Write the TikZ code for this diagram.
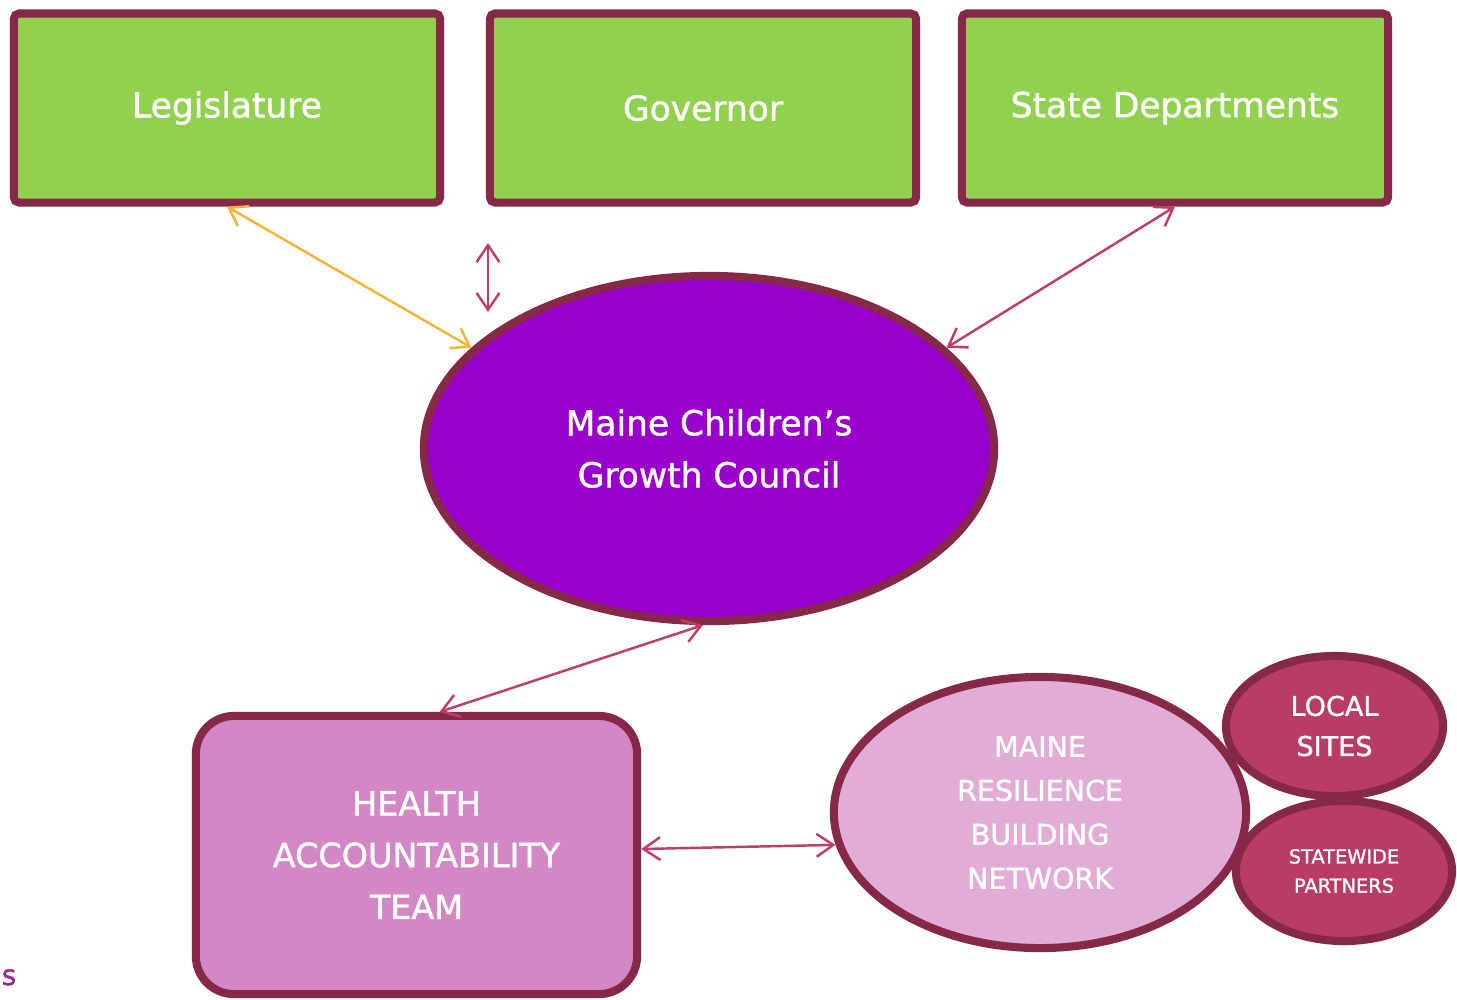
\documentclass[tikz,border=0pt]{standalone}
\usepackage{fontspec}
\setmainfont{DejaVu Sans}[FakeBold = 1.2]
\usetikzlibrary{arrows.meta, shapes.geometric}

\definecolor{frame}{RGB}{134,41,73}
\definecolor{leaf}{RGB}{146,208,80}
\definecolor{council}{RGB}{153,0,204}
\definecolor{orchid}{RGB}{211,135,196}
\definecolor{blush}{RGB}{225,172,214}
\definecolor{berry}{RGB}{185,60,104}
\definecolor{link}{RGB}{190,62,106}
\definecolor{amber}{RGB}{247,178,52}
\definecolor{plum}{RGB}{150,40,140}

\tikzset{
	branch/.style = {draw = frame, line width = 2.3pt, fill = leaf, rounded corners = 1.5pt,
		minimum width = 4.26cm, minimum height = 1.89cm, text = white,
		font = \fontsize{9.8}{12}\selectfont},
	blob/.style = {ellipse, draw = frame, line width = 2.3pt, inner sep = 0pt, text = white, align = center},
	link/.style = {<->, draw = link, line width = 0.7pt}
}

\begin{document}
\begin{tikzpicture}[> = {Straight Barb[length = 4.8pt, width = 6.5pt]}, x = 0.01cm, y = -0.01cm]

	\useasboundingbox (0, 0) rectangle (1457, 999);

	% Top row of branches

	\node [branch] (legis) at (227, 108) {Legislature};
	\node [branch] (gov) at (703, 108) {Governor};
	\node [branch] (depts) at (1175, 108) {State Departments};

	% Council in the middle

	\node [blob, fill = council, minimum width = 5.7cm, minimum height = 3.45cm,
		font = \fontsize{9.8}{14.8}\selectfont] (mcgc) at (709, 448.5) {Maine Children’s\\Growth Council};

	% Lower level

	\node [draw = frame, line width = 2.3pt, fill = orchid, rounded corners = 0.38cm,
		minimum width = 4.41cm, minimum height = 2.78cm, text = white, align = center,
		font = \fontsize{9.5}{14.7}\selectfont] (hat) at (416.5, 855) {HEALTH\\ACCOUNTABILITY\\TEAM};

	\node [blob, fill = blush, minimum width = 4.12cm, minimum height = 2.71cm,
		font = \fontsize{8.1}{12.5}\selectfont] (mrbn) at (1040, 812.5) {MAINE\\RESILIENCE\\BUILDING\\NETWORK};

	\node [blob, fill = berry, minimum width = 2.17cm, minimum height = 1.4cm,
		font = \fontsize{7.7}{11.4}\selectfont] (local) at (1334.5, 726) {LOCAL\\SITES};
	\node [blob, fill = berry, minimum width = 2.16cm, minimum height = 1.4cm,
		font = \fontsize{5.5}{8.3}\selectfont] (partners) at (1344, 871) {STATEWIDE\\PARTNERS};

	% Two-way links

	\draw [link, draw = amber] (legis.south) -- (mcgc.157);
	\coordinate (govtop) at (488, 243);
	\coordinate (govbot) at (488, 312);
	\draw [link] (govtop) -- (govbot);
	\draw [link] (depts.south) -- (mcgc.23);
	\draw [link] (mcgc.268) -- ([xshift = 0.23cm]hat.north);
	\draw [link] ([yshift = 0.06cm]hat.east) -- (mrbn.189);

	% Leftover caption letter at the edge

	\node [anchor = base west, inner sep = 0pt, text = plum, font = \fontsize{8}{10}\selectfont] (tail) at (1, 985) {s};

\end{tikzpicture}
\end{document}
